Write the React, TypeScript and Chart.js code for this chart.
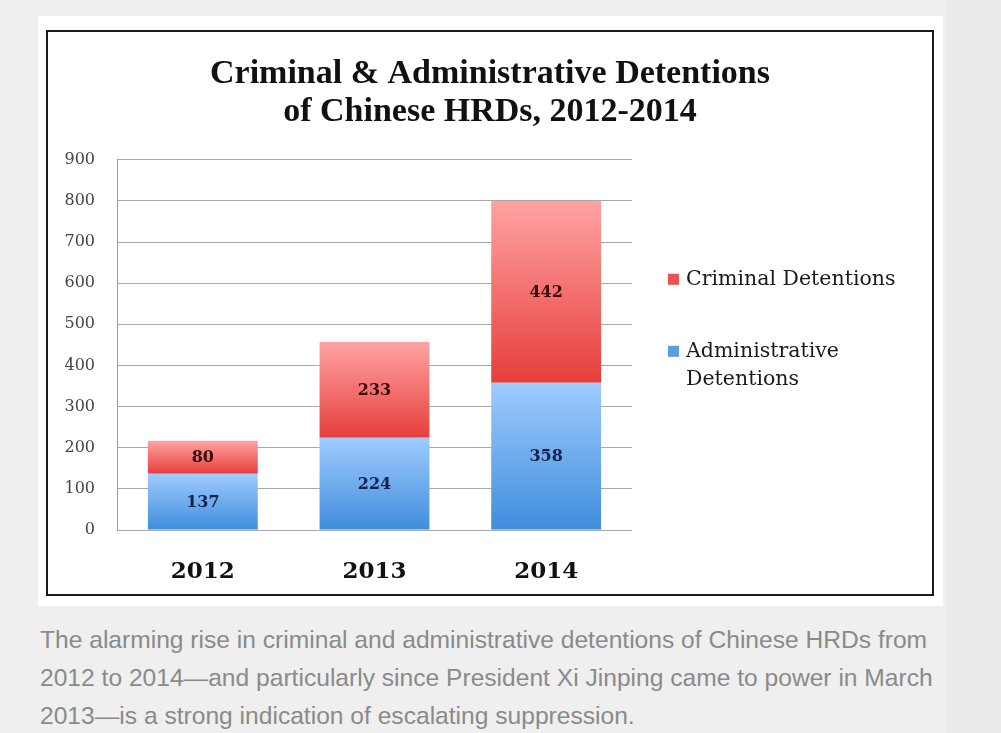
import React, { useEffect, useRef } from "react";
import { Chart, registerables } from "chart.js";

Chart.register(...registerables);

const years = ["2012", "2013", "2014"];
const administrative = [137, 224, 358];
const criminal = [80, 233, 442];
const yMax = 900;
const yStep = 100;
const titleLines = ["Criminal & Administrative Detentions", "of Chinese HRDs, 2012-2014"];
const legendCriminal = ["Criminal Detentions"];
const legendAdministrative = ["Administrative", "Detentions"];
const captionLines = [
  "The alarming rise in criminal and administrative detentions of Chinese HRDs from",
  "2012 to 2014\u2014and particularly since President Xi Jinping came to power in March",
  "2013\u2014is a strong indication of escalating suppression.",
];

const SERIF = '"DejaVu Serif", serif';

function segmentGradient(ctx: any, light: string, dark: string) {
  const chart = ctx.chart;
  const y = chart.scales && chart.scales.y;
  if (!y || !chart.chartArea || ctx.type !== "data") return dark;
  const i = ctx.dataIndex;
  let base = 0;
  let top = 0;
  if (ctx.datasetIndex === 0) {
    base = 0;
    top = administrative[i];
  } else {
    base = administrative[i];
    top = base + criminal[i];
  }
  const y0 = y.getPixelForValue(top);
  const y1 = y.getPixelForValue(base);
  if (!isFinite(y0) || !isFinite(y1)) return dark;
  const g = chart.ctx.createLinearGradient(0, y0, 0, y1);
  g.addColorStop(0, light);
  g.addColorStop(1, dark);
  return g;
}

const valueLabels = {
  id: "valueLabels",
  afterDatasetsDraw(chart: any) {
    const ctx = chart.ctx;
    ctx.save();
    ctx.font = `bold 16px ${SERIF}`;
    ctx.textAlign = "center";
    ctx.textBaseline = "middle";
    chart.data.datasets.forEach((ds: any, di: number) => {
      const meta = chart.getDatasetMeta(di);
      meta.data.forEach((el: any, i: number) => {
        ctx.fillStyle = di === 0 ? "#10234f" : "#3a0a0a";
        ctx.fillText(String(ds.data[i]), el.x, (el.y + el.base) / 2 + 1);
      });
    });
    ctx.restore();
  },
};

const sideLegend = {
  id: "sideLegend",
  afterDraw(chart: any) {
    const ctx = chart.ctx;
    const area = chart.chartArea;
    const x = area.right + 36;
    const items = [
      { lines: legendCriminal, color: "#e8534f", y: area.top + 120 },
      { lines: legendAdministrative, color: "#5b9de0", y: area.top + 192 },
    ];
    ctx.save();
    ctx.font = `20.5px ${SERIF}`;
    ctx.textBaseline = "middle";
    ctx.textAlign = "left";
    items.forEach((it) => {
      ctx.fillStyle = it.color;
      ctx.fillRect(x, it.y - 6, 11, 11);
      ctx.fillStyle = "#1a1a1a";
      it.lines.forEach((t, k) => {
        ctx.fillText(t, x + 18, it.y + k * 28);
      });
    });
    ctx.restore();
  },
};

export default function App() {
  const ref = useRef<HTMLCanvasElement>(null);

  useEffect(() => {
    if (!ref.current) return;
    const chart = new Chart(ref.current, {
      type: "bar",
      data: {
        labels: years,
        datasets: [
          {
            label: legendAdministrative.join(" "),
            data: administrative,
            backgroundColor: (c: any) => segmentGradient(c, "#9fcbff", "#3f8ddb"),
            borderWidth: 0,
            categoryPercentage: 0.8,
            barPercentage: 0.8,
          },
          {
            label: legendCriminal.join(" "),
            data: criminal,
            backgroundColor: (c: any) => segmentGradient(c, "#ffa3a3", "#e63e3b"),
            borderWidth: 0,
            categoryPercentage: 0.8,
            barPercentage: 0.8,
          },
        ],
      },
      options: {
        responsive: false,
        maintainAspectRatio: false,
        animation: false,
        devicePixelRatio: 1,
        layout: { padding: 0 },
        plugins: {
          legend: { display: false },
          tooltip: { enabled: false },
          title: {
            display: true,
            text: titleLines,
            color: "#111",
            font: { family: '"Liberation Serif", serif', size: 34, weight: "bold", lineHeight: 1.1 },
            padding: { top: 24, bottom: 29 },
          },
        },
        scales: {
          x: {
            stacked: true,
            grid: { display: false },
            border: { display: false },
            ticks: { color: "#111", font: { family: SERIF, size: 23, weight: "bold" }, padding: 20 },
            afterFit: (s: any) => {
              s.height = 64;
            },
          },
          y: {
            stacked: true,
            min: 0,
            max: yMax,
            ticks: { stepSize: yStep, color: "#444", font: { family: SERIF, size: 16 }, padding: 22 },
            grid: { color: "#a8a8a8", drawTicks: false },
            border: { display: true, color: "#9a9a9a" },
            afterFit: (s: any) => {
              s.width = 69;
            },
          },
          side: {
            type: "linear",
            position: "right",
            display: true,
            grid: { display: false },
            border: { display: false },
            ticks: { display: false },
            afterFit: (s: any) => {
              s.width = 300;
            },
          },
        },
      },
      plugins: [valueLabels, sideLegend],
    });
    return () => chart.destroy();
  }, []);

  return (
    <div
      style={{
        position: "fixed",
        left: 0,
        top: 0,
        width: 1001,
        height: 733,
        background: "#efefef",
        overflow: "hidden",
      }}
    >
      <div style={{ position: "absolute", left: 946, top: 0, width: 55, height: 733, background: "#ebebeb" }} />
      <div style={{ position: "absolute", left: 38, top: 16, width: 905, height: 590, background: "#ffffff" }} />
      <div
        style={{
          position: "absolute",
          left: 46,
          top: 30,
          width: 884,
          height: 562,
          border: "2px solid #1a1a1a",
          background: "#ffffff",
        }}
      >
        <canvas ref={ref} width={884} height={562} style={{ display: "block", width: 884, height: 562 }} />
      </div>
      <div
        style={{
          position: "absolute",
          left: 40,
          top: 621,
          fontFamily: '"Liberation Sans", Arial, sans-serif',
          fontSize: 24.6,
          lineHeight: "38px",
          color: "#8a8a8a",
          whiteSpace: "nowrap",
        }}
      >
        {captionLines.map((l, i) => (
          <div key={i}>{l}</div>
        ))}
      </div>
    </div>
  );
}
